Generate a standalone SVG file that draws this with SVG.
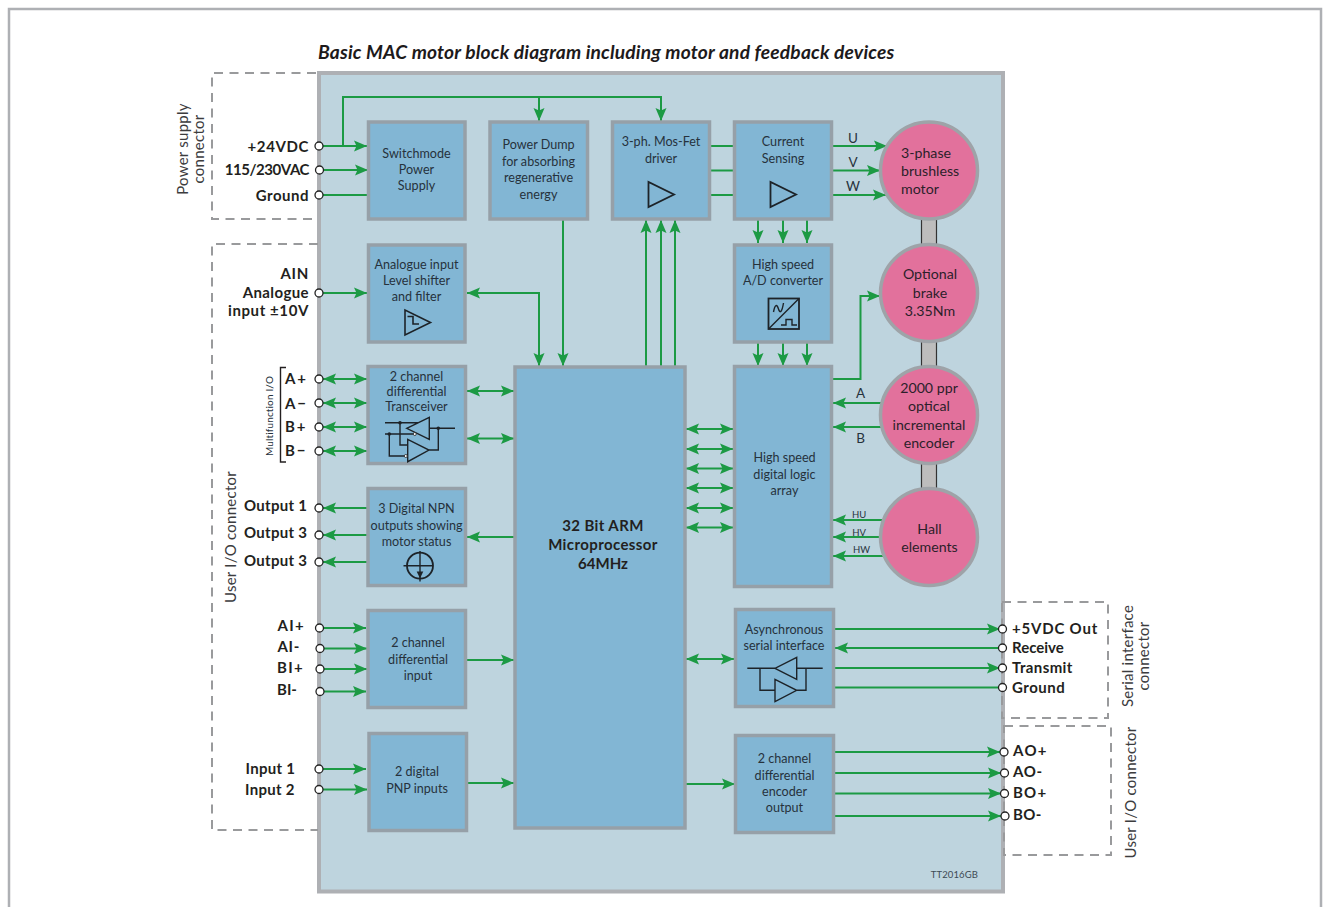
<svg xmlns="http://www.w3.org/2000/svg" width="1323" height="907" viewBox="0 0 1323 907">
<style>
text{font-family:Lato,"Open Sans","Liberation Sans",sans-serif}
.box{fill:#82b6d4;stroke:#96a0a8;stroke-width:3.5}
.mot{fill:#e2719c;stroke:#9ea3a8;stroke-width:3.5}
.t{font-size:12.6px;fill:#26323c;text-anchor:middle}
.m{font-size:14.2px;fill:#2c1f2a;text-anchor:middle}
.b{font-size:15px;font-weight:700;fill:#231f20}
.r{text-anchor:end}
.v{font-size:15px;fill:#3c3c3e;text-anchor:middle;letter-spacing:.25px}
.s{font-size:13.5px;fill:#26323c;text-anchor:middle}
.d{fill:none;stroke:#999a9c;stroke-width:2;stroke-dasharray:9 6.5}
.c{fill:none;stroke:#1c9a44;stroke-width:2}
.a{marker-end:url(#ah)}
.aa{marker-start:url(#ah);marker-end:url(#ah)}
.i{fill:none;stroke:#1d2328;stroke-width:1.4}
.it{fill:none;stroke:#1d2328;stroke-width:1.8}
.p{fill:#fff;stroke:#222;stroke-width:1.3}
.dot{fill:#1d2328}
.sh{fill:#bdbdbd}
.shl{stroke:#333;stroke-width:1.2;fill:none}
</style>
<defs>
<marker id="ah" markerUnits="userSpaceOnUse" markerWidth="14" markerHeight="13" refX="13" refY="6" orient="auto-start-reverse"><path d="M0,0.5 L13,6 L0,11.5 L2.5,6 Z" fill="#1c9a44"/></marker>
</defs>
<rect width="1323" height="907" fill="#fff"/>
<path d="M9,907 V9 H1321 V907" fill="none" stroke="#aeb0b4" stroke-width="2.5"/>
<text x="318" y="59" font-size="19.2" font-weight="700" font-style="italic" letter-spacing=".17" fill="#1d1a1b">Basic MAC motor block diagram including motor and feedback devices</text>
<rect id="panel" x="319" y="73" width="684" height="818.500" fill="#bed4de" stroke="#aeb0b4" stroke-width="4"/>
<g id="connector-frames">
<path class="d" d="M316,73 H212 V219 H316"/>
<path class="d" d="M318,244 H212 V830 H318"/>
<path class="d" d="M1002,602 H1108 V718 H1002 Z"/>
<path class="d" d="M1004,726 H1111 V855 H1004 Z"/>
</g>
<g id="connectors">
<path class="c a" d="M322,146 H367"/>
<path class="c a" d="M343,146 V97 H661 V121"/>
<path class="c a" d="M539,97 V121"/>
<path class="c a" d="M322,170 H368"/>
<path class="c" d="M322,195 H368"/>
<path class="c a" d="M322,293 H367"/>
<path class="c aa" d="M467,293 H539 V366"/>
<path class="c a" d="M563,220 V366"/>
<path class="c a" d="M646,366 V220"/>
<path class="c a" d="M661,366 V220"/>
<path class="c a" d="M675,366 V220"/>
<path class="c" d="M709,146 H735 M709,170.500 H735 M709,195 H735"/>
<path class="c a" d="M832,146 H887"/>
<path class="c a" d="M831,170.500 H880"/>
<path class="c a" d="M831,195 H886"/>
<path class="c a" d="M758,220 V243"/>
<path class="c a" d="M783,220 V243"/>
<path class="c a" d="M807,220 V243"/>
<path class="c a" d="M758,343 V366"/>
<path class="c a" d="M783,343 V366"/>
<path class="c a" d="M807,343 V366"/>
<path class="c a" d="M833,379 H860.500 V296 H880"/>
<path class="c a" d="M882,403 H833"/>
<path class="c a" d="M882,427 H833"/>
<path class="c a" d="M884,520 H833"/>
<path class="c a" d="M882,537 H833"/>
<path class="c a" d="M884,556 H833"/>
<path class="c aa" d="M686,429 H733"/>
<path class="c aa" d="M686,449 H733"/>
<path class="c aa" d="M686,468.500 H733"/>
<path class="c aa" d="M686,488 H733"/>
<path class="c aa" d="M686,508 H733"/>
<path class="c aa" d="M686,527.500 H733"/>
<path class="c aa" d="M323,379 H367"/>
<path class="c aa" d="M323,403 H367"/>
<path class="c aa" d="M323,427 H367"/>
<path class="c aa" d="M323,451 H367"/>
<path class="c aa" d="M467,391 H514"/>
<path class="c aa" d="M467,438.500 H514"/>
<path class="c a" d="M367,508 H323"/>
<path class="c a" d="M367,535 H323"/>
<path class="c a" d="M367,562 H323"/>
<path class="c a" d="M514,537 H467"/>
<path class="c a" d="M322,628 H366"/>
<path class="c a" d="M322,648.500 H367"/>
<path class="c a" d="M322,669 H367"/>
<path class="c a" d="M322,691.500 H366"/>
<path class="c a" d="M466,660 H514"/>
<path class="c a" d="M322,769 H366"/>
<path class="c a" d="M322,789.500 H367"/>
<path class="c a" d="M466,783 H514"/>
<path class="c a" d="M686,784 H735"/>
<path class="c aa" d="M686,659 H734"/>
<path class="c a" d="M835,629 H1000"/>
<path class="c a" d="M1002,648 H835"/>
<path class="c a" d="M835,668 H1000"/>
<path class="c" d="M835,687.500 H1002"/>
<path class="c a" d="M835,752 H1000"/>
<path class="c a" d="M835,773 H1001"/>
<path class="c a" d="M835,793.500 H1001"/>
<path class="c a" d="M833,816 H1001"/>
</g>
<g id="shafts">
<rect class="sh" x="921.500" y="218" width="15" height="28"/><path class="shl" d="M921.500,218 V246 M936.500,218 V246"/>
<rect class="sh" x="921.500" y="341" width="15" height="28"/><path class="shl" d="M921.500,341 V369 M936.500,341 V369"/>
<rect class="sh" x="921.500" y="463" width="15" height="28"/><path class="shl" d="M921.500,463 V491 M936.500,463 V491"/>
</g>
<g id="switchmode"><rect class="box" x="368.500" y="122" width="96.500" height="97"/><text class="t" x="416.500" y="158">Switchmode</text><text class="t" x="416.500" y="174">Power</text><text class="t" x="416.500" y="190">Supply</text></g>
<g id="power-dump"><rect class="box" x="490" y="122" width="97.500" height="97"/><text class="t" x="538.500" y="149">Power Dump</text><text class="t" x="538.500" y="166">for absorbing</text><text class="t" x="538.500" y="182">regenerative</text><text class="t" x="538.500" y="199">energy</text></g>
<g id="mosfet"><rect class="box" x="612.500" y="122" width="97" height="97"/><text class="t" x="661" y="146">3-ph. Mos-Fet</text><text class="t" x="661" y="163">driver</text><path class="it" d="M648.500,182 V207 L674,194.500 Z"/></g>
<g id="current"><rect class="box" x="734.500" y="122" width="97" height="97"/><text class="t" x="783" y="146">Current</text><text class="t" x="783" y="163">Sensing</text><path class="it" d="M770.500,182 V207 L796,194.500 Z"/></g>
<g id="analogue"><rect class="box" x="368.500" y="245" width="96.500" height="97"/><text class="t" x="416.500" y="269">Analogue input</text><text class="t" x="416.500" y="285">Level shifter</text><text class="t" x="416.500" y="301">and filter</text><path class="i" style="stroke-width:1.6" d="M405,310 V335 L430.500,322.500 Z M407.500,316.500 H413 V324 H419"/></g>
<g id="adc"><rect class="box" x="734.500" y="245" width="97" height="97"/><text class="t" x="783" y="269">High speed</text><text class="t" x="783" y="285">A/D converter</text><rect class="it" x="768.500" y="298.500" width="30.500" height="30.500"/><path class="i" d="M768.500,329 L799,298.500 M773.500,312 C775,304 777,304 778.500,309 C780,314 782,312 783.500,303 M781,325 H786 V319.500 H792 V325 H797"/></g>
<g id="transceiver"><rect class="box" x="368" y="366.500" width="97.500" height="97"/><text class="t" x="416.500" y="381">2 channel</text><text class="t" x="416.500" y="396">differential</text><text class="t" x="416.500" y="411">Transceiver</text>
<path class="i" d="M385,422.700 H418 M385,434 H413 M406.700,428.300 L429.300,417.300 V439.300 Z M429.300,428.300 H455 M438.300,428.300 V450 H429 M407.700,439.300 V461.700 L429,450 Z M400,422.700 V445 H407.700 M389.300,434 V456 H404.500"/>
<circle class="dot" cx="400" cy="422.700" r="1.800"/><circle class="dot" cx="389.300" cy="434" r="1.800"/><circle class="dot" cx="438.300" cy="428.300" r="1.800"/><circle class="p" style="stroke-width:.8" cx="414.800" cy="434" r="1.500"/><circle class="p" style="stroke-width:.8" cx="405.800" cy="456" r="1.500"/></g>
<g id="npn"><rect class="box" x="368" y="488.500" width="97.500" height="97"/><text class="t" x="416.500" y="513">3 Digital NPN</text><text class="t" x="416.500" y="529.500">outputs showing</text><text class="t" x="416.500" y="546">motor status</text><circle class="it" cx="420" cy="565.700" r="13"/><path class="i" d="M403.500,565.700 H433 M420,551 V581.500"/><path class="dot" d="M416.700,571.500 H423.300 L420,578.500 Z"/></g>
<g id="diff-input"><rect class="box" x="368" y="610.500" width="97.500" height="97"/><text class="t" x="418" y="647">2 channel</text><text class="t" x="418" y="664">differential</text><text class="t" x="418" y="680">input</text></g>
<g id="pnp"><rect class="box" x="369" y="733.500" width="97.500" height="97"/><text class="t" x="417" y="776">2 digital</text><text class="t" x="417" y="793">PNP inputs</text></g>
<g id="arm"><rect class="box" x="515" y="367" width="170" height="461"/><text class="b" style="text-anchor:middle" letter-spacing=".4" x="603" y="531">32 Bit ARM</text><text class="b" style="text-anchor:middle" letter-spacing=".4" x="603" y="550">Microprocessor</text><text class="b" style="text-anchor:middle" x="603" y="569">64MHz</text></g>
<g id="logic"><rect class="box" x="734.500" y="366.500" width="97" height="220"/><text class="t" x="784.500" y="462">High speed</text><text class="t" x="784.500" y="479">digital logic</text><text class="t" x="784.500" y="495">array</text></g>
<g id="async"><rect class="box" x="735.500" y="609.500" width="98" height="97"/><text class="t" x="784" y="634">Asynchronous</text><text class="t" x="784" y="650">serial interface</text><path class="i" d="M747.300,668.300 H775 L796.700,657.300 V679.300 L775,668.300 M796.700,668.300 H822.700 M760,668.300 V690.300 H775 M775,679.300 V701.700 L796.700,690.300 Z M796.700,690.300 H806 V668.300"/></g>
<g id="encoder-output"><rect class="box" x="735.500" y="735.500" width="98" height="97"/><text class="t" x="784.500" y="763">2 channel</text><text class="t" x="784.500" y="779.500">differential</text><text class="t" x="784.500" y="796">encoder</text><text class="t" x="784.500" y="812">output</text></g>
<g id="motor"><circle class="mot" cx="929" cy="170.500" r="48.500"/><text class="m" style="text-anchor:start" x="901" y="158">3-phase</text><text class="m" style="text-anchor:start" x="901" y="176">brushless</text><text class="m" style="text-anchor:start" x="901" y="193.500">motor</text></g>
<g id="brake"><circle class="mot" cx="929" cy="293" r="48.500"/><text class="m" x="930" y="279">Optional</text><text class="m" x="930" y="297.500">brake</text><text class="m" x="930" y="316">3.35Nm</text></g>
<g id="optical-encoder"><circle class="mot" cx="929" cy="415" r="48.500"/><text class="m" x="929" y="393">2000 ppr</text><text class="m" x="929" y="411">optical</text><text class="m" x="929" y="429.500">incremental</text><text class="m" x="929" y="448">encoder</text></g>
<g id="hall"><circle class="mot" cx="929" cy="537" r="48.500"/><text class="m" x="929.500" y="534">Hall</text><text class="m" x="929.500" y="552">elements</text></g>
<g id="pins">
<circle class="p" cx="319" cy="146" r="4"/><circle class="p" cx="319.500" cy="170" r="4"/><circle class="p" cx="319" cy="195" r="4"/><circle class="p" cx="319" cy="293" r="4"/>
<circle class="p" cx="319" cy="379" r="4"/><circle class="p" cx="319" cy="403" r="4"/><circle class="p" cx="319" cy="427" r="4"/><circle class="p" cx="319" cy="451" r="4"/>
<circle class="p" cx="319" cy="508" r="4"/><circle class="p" cx="319" cy="535" r="4"/><circle class="p" cx="319" cy="562" r="4"/>
<circle class="p" cx="319.500" cy="628" r="4"/><circle class="p" cx="320" cy="648.500" r="4"/><circle class="p" cx="320" cy="669" r="4"/><circle class="p" cx="320" cy="691.500" r="4"/>
<circle class="p" cx="319" cy="769" r="4"/><circle class="p" cx="319" cy="789.500" r="4"/>
<circle class="p" cx="1002.500" cy="629" r="4"/><circle class="p" cx="1002.500" cy="648" r="4"/><circle class="p" cx="1002.500" cy="668" r="4"/><circle class="p" cx="1002.500" cy="687.500" r="4"/>
<circle class="p" cx="1004" cy="752" r="4"/><circle class="p" cx="1004.500" cy="773" r="4"/><circle class="p" cx="1004.500" cy="793.500" r="4"/><circle class="p" cx="1005" cy="816" r="4"/>
</g>
<g id="labels">
<text class="b r" letter-spacing=".6" x="309" y="152">+24VDC</text><text class="b r" letter-spacing="-.45" x="309" y="174.500">115/230VAC</text><text class="b r" letter-spacing=".5" x="309" y="201">Ground</text>
<text class="b r" letter-spacing=".7" x="309" y="279">AIN</text><text class="b r" letter-spacing=".4" x="309" y="298">Analogue</text><text class="b r" letter-spacing=".6" x="309" y="316">input ±10V</text>
<text class="b" letter-spacing="1.8" x="285" y="384">A+</text><text class="b" letter-spacing="1.8" x="285" y="408.500">A−</text><text class="b" letter-spacing="1.8" x="285" y="432">B+</text><text class="b" letter-spacing="1.8" x="285" y="456">B−</text>
<text class="b" letter-spacing=".3" x="244" y="511">Output 1</text><text class="b" letter-spacing=".3" x="244" y="538">Output 3</text><text class="b" letter-spacing=".3" x="244" y="566">Output 3</text>
<text class="b" letter-spacing="1.3" x="277.500" y="631">AI+</text><text class="b" letter-spacing=".7" x="277.500" y="652">AI-</text><text class="b" letter-spacing="1.3" x="277" y="673">BI+</text><text class="b" x="277" y="695">BI-</text>
<text class="b" letter-spacing=".3" x="245.500" y="774">Input 1</text><text class="b" letter-spacing=".3" x="245" y="794.500">Input 2</text>
<text class="b" letter-spacing=".8" x="1012" y="633.500">+5VDC Out</text><text class="b" x="1012" y="652.500">Receive</text><text class="b" letter-spacing=".4" x="1012" y="672.500">Transmit</text><text class="b" letter-spacing=".5" x="1012" y="692.500">Ground</text>
<text class="b" letter-spacing="1.3" x="1013" y="756">AO+</text><text class="b" letter-spacing=".7" x="1013" y="777">AO-</text><text class="b" letter-spacing="1.2" x="1013" y="798">BO+</text><text class="b" letter-spacing=".4" x="1013" y="820">BO-</text>
<text class="s" x="853" y="143">U</text><text class="s" x="853" y="167">V</text><text class="s" x="853" y="191">W</text>
<text class="s" x="860.500" y="398">A</text><text class="s" x="860.500" y="443">B</text>
<text x="859" y="518" font-size="9.500" text-anchor="middle" fill="#26323c">HU</text><text x="859" y="536" font-size="9.500" text-anchor="middle" fill="#26323c">HV</text><text x="861.500" y="553" font-size="9.500" text-anchor="middle" fill="#26323c">HW</text>
<text x="978" y="878" font-size="9.500" letter-spacing=".1" text-anchor="end" fill="#3d4a54">TT2016GB</text>
<text class="v" transform="translate(188,149) rotate(-90)">Power supply</text><text class="v" transform="translate(204,149) rotate(-90)">connector</text>
<text class="v" transform="translate(236,537) rotate(-90)">User I/O connector</text>
<text transform="translate(273,416) rotate(-90)" font-size="10" letter-spacing=".15" text-anchor="middle" fill="#26323c">Multifunction I/O</text>
<text class="v" transform="translate(1133,656) rotate(-90)">Serial interface</text><text class="v" transform="translate(1149,656) rotate(-90)">connector</text>
<text class="v" transform="translate(1136,792.500) rotate(-90)">User I/O connector</text>
<path fill="none" stroke="#231f20" stroke-width="1.400" d="M286,367.500 H280.500 V462 H286"/>
</g>
</svg>
